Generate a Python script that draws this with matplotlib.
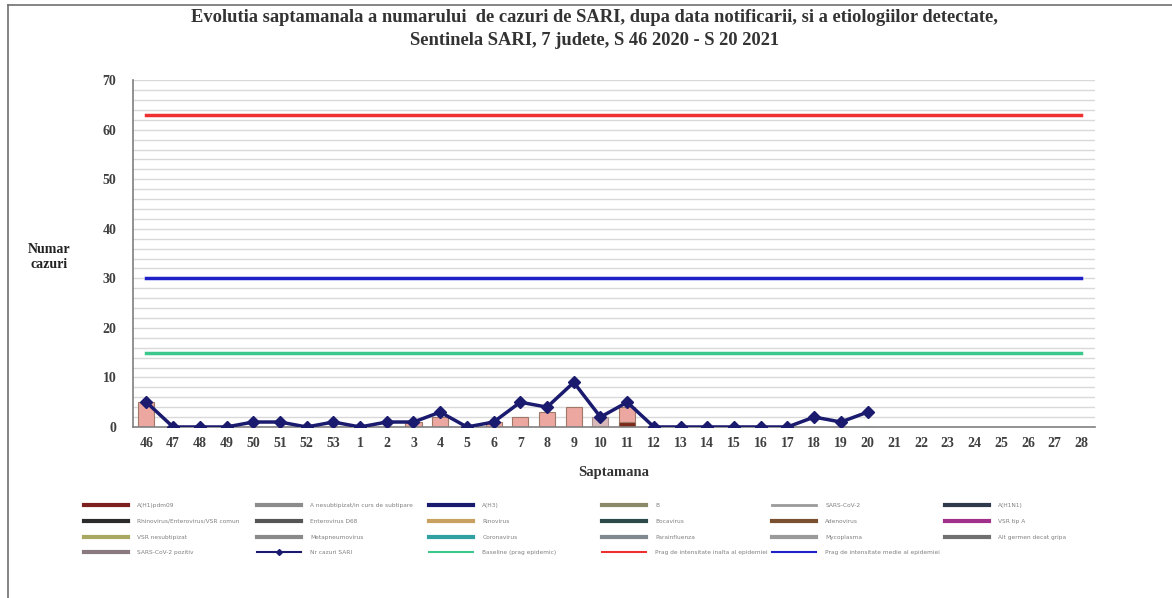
#!/usr/bin/env python3
"""
Weekly SARI cases by notification date, sentinel surveillance, S46 2020 - S20 2021.
"""
import matplotlib
matplotlib.use("Agg")
import matplotlib.pyplot as plt
import numpy as np
from matplotlib.lines import Line2D

# Week labels (S46 2020 .. S28 2021)
weeks = [str(w) for w in range(46, 54)] + [str(w) for w in range(1, 29)]

# Number of SARI cases (data up to week 20)
sari_cases = [5, 0, 0, 0, 1, 1, 0, 1, 0, 1, 1, 3, 0, 1, 5, 4, 9, 2, 5,
              0, 0, 0, 0, 0, 0, 2, 1, 3]

# Detected etiologies (stacked bars)
sars_cov2 = [5, 0, 0, 0, 0, 0, 0, 0, 0, 0, 1, 2, 0, 1, 2, 3, 4, 0, 3,
             0, 0, 0, 0, 0, 0, 0, 0, 0]
other_pos = [0, 0, 0, 0, 0, 0, 0, 0, 0, 0, 0, 0, 0, 0, 0, 0, 0, 2, 0,
             0, 0, 0, 0, 0, 0, 0, 0, 0]
rhinovirus = [0, 0, 0, 0, 0, 0, 0, 0, 0, 0, 0, 0, 0, 0, 0, 0, 0, 0, 1,
              0, 0, 0, 0, 0, 0, 0, 0, 0]

# Epidemic thresholds
baseline = 15
prag_mediu = 30
prag_inalt = 63

# Legend entries, row by row as in the original (label, colour, linewidth)
legend_rows = [
    [("A(H1)pdm09", "#7b1f1f", 3), ("A nesubtipizat/in curs de subtipare", "#8c8c8c", 3),
     ("A(H3)", "#1a1a6e", 3), ("B", "#8a8a6a", 3), ("SARS-CoV-2", "#9a9a9a", 2),
     ("A(H1N1)", "#2f3b4c", 3)],
    [("Rhinovirus/Enterovirus/VSR comun", "#2b2b2b", 3), ("Enterovirus D68", "#555555", 3),
     ("Rinovirus", "#c8a060", 3), ("Bocavirus", "#2d4a4a", 3), ("Adenovirus", "#7a5030", 3),
     ("VSR tip A", "#a0308a", 3)],
    [("VSR nesubtipizat", "#a8a860", 3), ("Metapneumovirus", "#8a8a8a", 3),
     ("Coronavirus", "#30a0a0", 3), ("Parainfluenza", "#808890", 3),
     ("Mycoplasma", "#9a9a9a", 3), ("Alt germen decat gripa", "#707070", 3)],
    [("SARS-CoV-2 pozitiv", "#8a7a80", 3), ("Nr cazuri SARI", "#1a1a6e", 1.5),
     ("Baseline (prag epidemic)", "#3cc88c", 1.5), ("Prag de intensitate inalta al epidemiei", "#ee3030", 1.5),
     ("Prag de intensitate medie al epidemiei", "#2020c8", 1.5)],
]

serif = "Liberation Serif"


def main():
    fig = plt.figure(figsize=(11.72, 5.98), dpi=100)
    ax = fig.add_axes([0.1135, 0.286, 0.8205, 0.58])

    x = np.arange(len(weeks))
    n = len(sari_cases)

    # grid every 2 cases
    for yv in range(2, 71, 2):
        ax.axhline(yv, color="#d9d9d9", linewidth=1.0, zorder=0)

    # stacked bars
    ax.bar(x[:n], rhinovirus, width=0.6, color="#7b2a1a", edgecolor="#8b5a4a",
           linewidth=0.8, zorder=2)
    ax.bar(x[:n], sars_cov2, width=0.6, bottom=rhinovirus, color="#eba7a0",
           edgecolor="#a07868", linewidth=0.8, zorder=2)
    ax.bar(x[:n], other_pos, width=0.6, color="#d8b8b8",
           edgecolor="#a89090", linewidth=0.8, zorder=2)

    # thresholds
    ax.plot(x, [prag_inalt] * len(x), color="#ee3030", linewidth=2.5, zorder=3)
    ax.plot(x, [prag_mediu] * len(x), color="#2020c8", linewidth=2.5, zorder=3)
    ax.plot(x, [baseline] * len(x), color="#3cc88c", linewidth=2.5, zorder=3)

    # SARI cases
    ax.plot(x[:n], sari_cases, color="#1a1a6e", linewidth=2.5, marker="D",
            markersize=6, zorder=4)

    ax.set_xlim(-0.5, len(weeks) - 0.5)
    ax.set_ylim(0, 70)
    ax.set_yticks(range(0, 71, 10))
    ax.set_xticks(x)
    ax.set_xticklabels(weeks)
    ax.tick_params(length=0, pad=7, labelcolor="#404040")
    for lab in ax.get_xticklabels() + ax.get_yticklabels():
        lab.set_fontfamily(serif)
        lab.set_fontweight("bold")
        lab.set_fontsize(10)
    ax.tick_params(axis="y", pad=12)

    for side in ("top", "right"):
        ax.spines[side].set_visible(False)
    ax.spines["left"].set_color("#808080")
    ax.spines["bottom"].set_color("#808080")
    ax.spines["left"].set_linewidth(1.2)
    ax.spines["bottom"].set_linewidth(1.2)

    ax.set_xlabel("Saptamana", fontfamily=serif, fontweight="bold",
                  fontsize=10.5, color="#333333", labelpad=12)
    fig.text(0.042, 0.57, "Numar\ncazuri", fontfamily=serif, fontweight="bold",
             fontsize=10, ha="center", va="center", color="#222222")

    fig.text(0.507, 0.97, "Evolutia saptamanala a numarului  de cazuri de SARI, dupa data notificarii, si a etiologiilor detectate,",
             fontfamily=serif, fontweight="bold", fontsize=13.3, ha="center",
             va="center", color="#333333")
    fig.text(0.507, 0.932, "Sentinela SARI, 7 judete, S 46 2020 - S 20 2021",
             fontfamily=serif, fontweight="bold", fontsize=13.3, ha="center",
             va="center", color="#333333")

    # legend: one column per legend so the columns are evenly spaced
    ncol = 6
    col_x = [0.0674, 0.2150, 0.3618, 0.5094, 0.6544, 0.8020]
    for c in range(ncol):
        handles, labels = [], []
        for row in legend_rows:
            if c < len(row):
                label, color, lw = row[c]
                if label == "Nr cazuri SARI":
                    h = Line2D([], [], color=color, linewidth=lw, marker="D",
                               markersize=3)
                else:
                    h = Line2D([], [], color=color, linewidth=lw)
                handles.append(h)
                labels.append(label)
        fig.legend(handles, labels, ncol=1, loc="upper left",
                   bbox_to_anchor=(col_x[c], 0.168), frameon=False,
                   fontsize=4.2, handlelength=7.5, labelspacing=1.85,
                   handletextpad=1.6, labelcolor="#808080")

    # chart frame (left and top edges)
    fig.add_artist(Line2D([0.007, 0.007], [0.0, 0.992], color="#707070",
                          linewidth=1.2, transform=fig.transFigure))
    fig.add_artist(Line2D([0.007, 1.0], [0.992, 0.992], color="#707070",
                          linewidth=1.2, transform=fig.transFigure))

    fig.savefig("out.png", dpi=100)


if __name__ == "__main__":
    main()
